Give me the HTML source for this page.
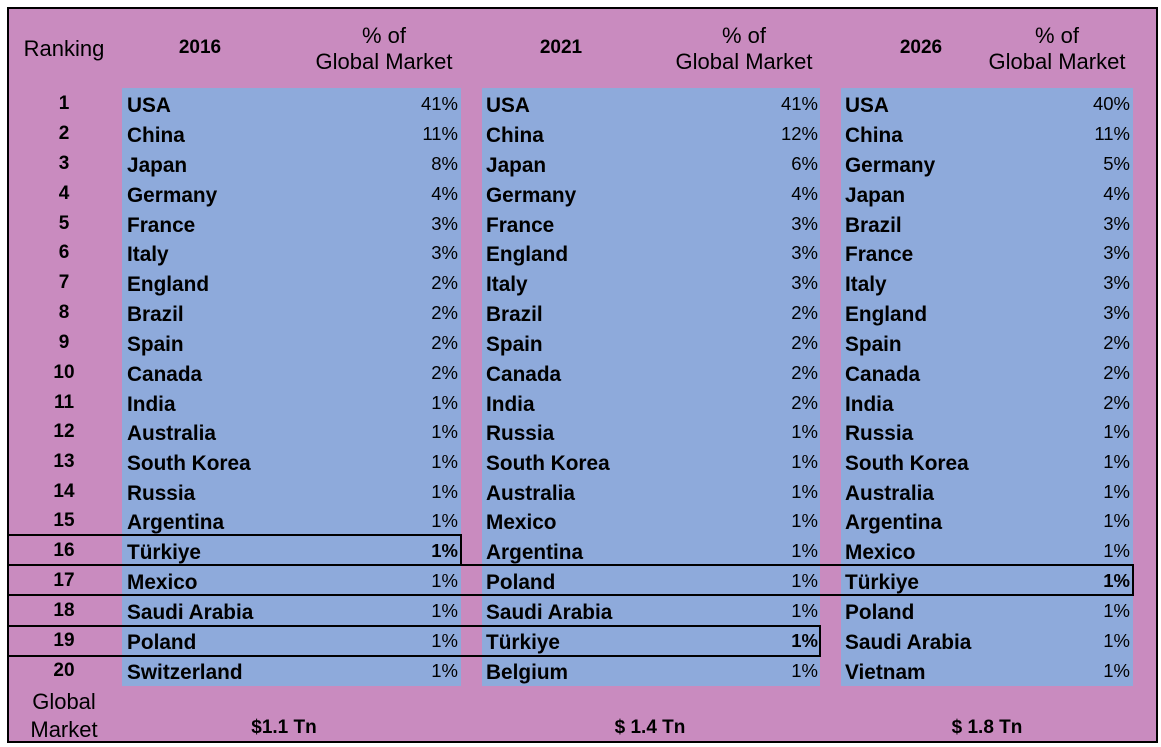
<!DOCTYPE html>
<html><head><meta charset="utf-8"><style>
*{margin:0;padding:0;box-sizing:border-box}
body{width:1161px;height:747px;background:#fff;position:relative;overflow:hidden;font-family:"Liberation Sans",sans-serif;color:#000}
#frame{position:absolute;left:7px;top:7px;width:1151px;height:736px;background:#c98bbf;border:2px solid #000}
.bl{position:absolute;background:#8eaadb;top:88px;height:598px}
.h{position:absolute;font-size:22px;line-height:26px;text-align:center}
.y{position:absolute;font-size:19px;font-weight:bold;top:37px;width:100px;text-align:center}
.r{position:absolute;left:0;width:1161px;height:30px;line-height:30px}
.r span{position:absolute;top:0}
.k{left:14px;width:100px;text-align:center;font-weight:bold;font-size:19px}
.n{font-weight:bold;font-size:20.8px;top:2px!important}
.p{width:80px;text-align:right;font-size:18.5px}
.n1{left:127px}.p1{left:378px}
.n2{left:486px}.p2{left:738px}
.n3{left:845px}.p3{left:1050px}
.bx{position:absolute;border:2px solid #000}
.b{font-weight:bold}
</style></head><body>
<div id="frame"></div>
<div class="bl" style="left:122px;width:339px"></div>
<div class="bl" style="left:482px;width:338px"></div>
<div class="bl" style="left:841px;width:292px"></div>

<div class="h" style="left:14px;width:100px;top:36px">Ranking</div>
<div class="y" style="left:150px">2016</div>
<div class="h" style="left:294px;width:180px;top:23px">% of<br>Global Market</div>
<div class="y" style="left:511px">2021</div>
<div class="h" style="left:654px;width:180px;top:23px">% of<br>Global Market</div>
<div class="y" style="left:871px">2026</div>
<div class="h" style="left:967px;width:180px;top:23px">% of<br>Global Market</div>

<div class="r" style="top:89px"><span class="k">1</span><span class="n n1">USA</span><span class="p p1">41%</span><span class="n n2">USA</span><span class="p p2">41%</span><span class="n n3">USA</span><span class="p p3">40%</span></div>
<div class="r" style="top:119px"><span class="k">2</span><span class="n n1">China</span><span class="p p1">11%</span><span class="n n2">China</span><span class="p p2">12%</span><span class="n n3">China</span><span class="p p3">11%</span></div>
<div class="r" style="top:149px"><span class="k">3</span><span class="n n1">Japan</span><span class="p p1">8%</span><span class="n n2">Japan</span><span class="p p2">6%</span><span class="n n3">Germany</span><span class="p p3">5%</span></div>
<div class="r" style="top:179px"><span class="k">4</span><span class="n n1">Germany</span><span class="p p1">4%</span><span class="n n2">Germany</span><span class="p p2">4%</span><span class="n n3">Japan</span><span class="p p3">4%</span></div>
<div class="r" style="top:209px"><span class="k">5</span><span class="n n1">France</span><span class="p p1">3%</span><span class="n n2">France</span><span class="p p2">3%</span><span class="n n3">Brazil</span><span class="p p3">3%</span></div>
<div class="r" style="top:238px"><span class="k">6</span><span class="n n1">Italy</span><span class="p p1">3%</span><span class="n n2">England</span><span class="p p2">3%</span><span class="n n3">France</span><span class="p p3">3%</span></div>
<div class="r" style="top:268px"><span class="k">7</span><span class="n n1">England</span><span class="p p1">2%</span><span class="n n2">Italy</span><span class="p p2">3%</span><span class="n n3">Italy</span><span class="p p3">3%</span></div>
<div class="r" style="top:298px"><span class="k">8</span><span class="n n1">Brazil</span><span class="p p1">2%</span><span class="n n2">Brazil</span><span class="p p2">2%</span><span class="n n3">England</span><span class="p p3">3%</span></div>
<div class="r" style="top:328px"><span class="k">9</span><span class="n n1">Spain</span><span class="p p1">2%</span><span class="n n2">Spain</span><span class="p p2">2%</span><span class="n n3">Spain</span><span class="p p3">2%</span></div>
<div class="r" style="top:358px"><span class="k">10</span><span class="n n1">Canada</span><span class="p p1">2%</span><span class="n n2">Canada</span><span class="p p2">2%</span><span class="n n3">Canada</span><span class="p p3">2%</span></div>
<div class="r" style="top:388px"><span class="k">11</span><span class="n n1">India</span><span class="p p1">1%</span><span class="n n2">India</span><span class="p p2">2%</span><span class="n n3">India</span><span class="p p3">2%</span></div>
<div class="r" style="top:417px"><span class="k">12</span><span class="n n1">Australia</span><span class="p p1">1%</span><span class="n n2">Russia</span><span class="p p2">1%</span><span class="n n3">Russia</span><span class="p p3">1%</span></div>
<div class="r" style="top:447px"><span class="k">13</span><span class="n n1">South Korea</span><span class="p p1">1%</span><span class="n n2">South Korea</span><span class="p p2">1%</span><span class="n n3">South Korea</span><span class="p p3">1%</span></div>
<div class="r" style="top:477px"><span class="k">14</span><span class="n n1">Russia</span><span class="p p1">1%</span><span class="n n2">Australia</span><span class="p p2">1%</span><span class="n n3">Australia</span><span class="p p3">1%</span></div>
<div class="r" style="top:506px"><span class="k">15</span><span class="n n1">Argentina</span><span class="p p1">1%</span><span class="n n2">Mexico</span><span class="p p2">1%</span><span class="n n3">Argentina</span><span class="p p3">1%</span></div>
<div class="r" style="top:536px"><span class="k">16</span><span class="n n1">Türkiye</span><span class="p p1 b">1%</span><span class="n n2">Argentina</span><span class="p p2">1%</span><span class="n n3">Mexico</span><span class="p p3">1%</span></div>
<div class="r" style="top:566px"><span class="k">17</span><span class="n n1">Mexico</span><span class="p p1">1%</span><span class="n n2">Poland</span><span class="p p2">1%</span><span class="n n3">Türkiye</span><span class="p p3 b">1%</span></div>
<div class="r" style="top:596px"><span class="k">18</span><span class="n n1">Saudi Arabia</span><span class="p p1">1%</span><span class="n n2">Saudi Arabia</span><span class="p p2">1%</span><span class="n n3">Poland</span><span class="p p3">1%</span></div>
<div class="r" style="top:626px"><span class="k">19</span><span class="n n1">Poland</span><span class="p p1">1%</span><span class="n n2">Türkiye</span><span class="p p2 b">1%</span><span class="n n3">Saudi Arabia</span><span class="p p3">1%</span></div>
<div class="r" style="top:656px"><span class="k">20</span><span class="n n1">Switzerland</span><span class="p p1">1%</span><span class="n n2">Belgium</span><span class="p p2">1%</span><span class="n n3">Vietnam</span><span class="p p3">1%</span></div>

<div class="bx" style="left:7px;top:534px;width:455px;height:32px"></div>
<div class="bx" style="left:7px;top:564px;width:1127px;height:32px"></div>
<div class="bx" style="left:7px;top:625px;width:814px;height:32px"></div>

<div class="h" style="left:14px;width:100px;top:688px;line-height:28px">Global<br>Market</div>
<div class="y" style="left:234px;top:717px">$1.1 Tn</div>
<div class="y" style="left:600px;top:717px">$ 1.4 Tn</div>
<div class="y" style="left:937px;top:717px">$ 1.8 Tn</div>
</body></html>
